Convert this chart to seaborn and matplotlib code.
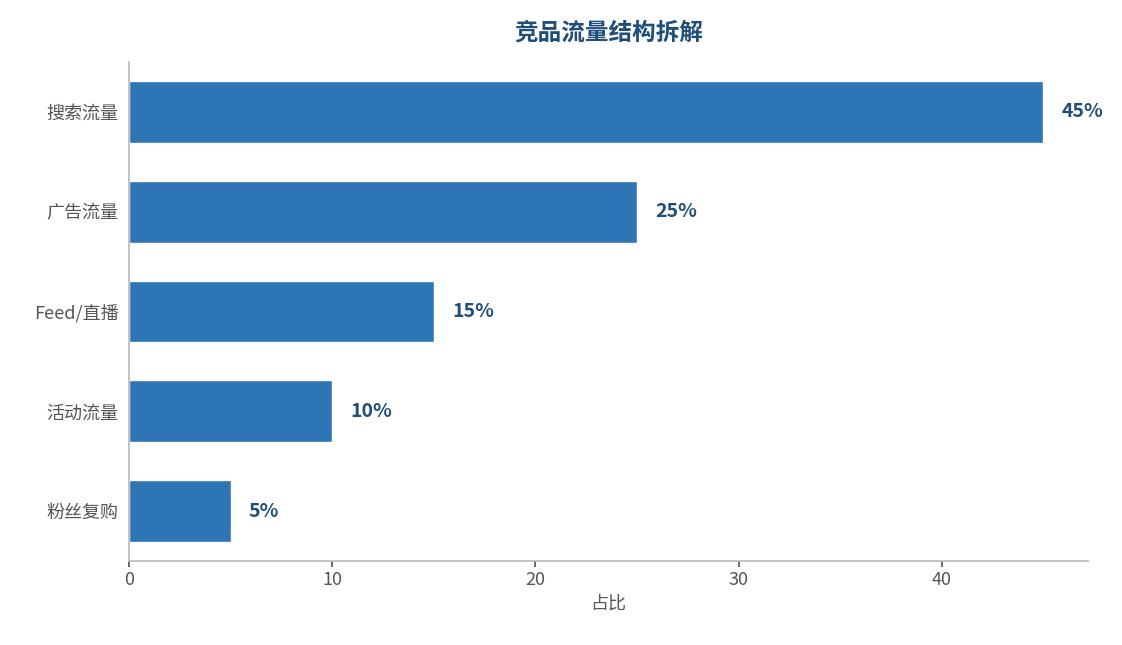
import matplotlib
matplotlib.use("Agg")
import matplotlib.pyplot as plt
import seaborn as sns
import pandas as pd

categories = ["搜索流量", "广告流量", "Feed/直播", "活动流量", "粉丝复购"]
values = [45, 25, 15, 10, 5]

sns.set_theme(style="white")
plt.rcParams['font.family'] = ['Noto Sans CJK SC', 'DejaVu Sans']

df = pd.DataFrame({"cat": categories, "val": values})
fig = plt.figure(figsize=(11.22, 6.45), dpi=100)
ax = fig.add_axes([129/1122, 1-561/645, (1088-129)/1122, (561-62)/645])
sns.barplot(data=df, y="cat", x="val", color="#2E75B6", saturation=1, width=0.62, ax=ax)
for i, v in enumerate(values):
    ax.text(v + 0.9, i, f"{v}%", va="center", ha="left", fontsize=14, fontweight="bold", color="#1F4E79")
ax.set_xlim(0, 47.2)
ax.set_xticks([0, 10, 20, 30, 40])
ax.set_xlabel("占比", fontsize=13, color="#555555")
ax.set_ylabel("")
ax.tick_params(axis="both", labelsize=13, colors="#555555", length=4, left=False, bottom=True)
for s in ["top", "right"]:
    ax.spines[s].set_visible(False)
for s in ["left", "bottom"]:
    ax.spines[s].set_color("#BBBBBB")
ax.set_title("竞品流量结构拆解", fontsize=17, fontweight="bold", color="#1F4E79", pad=16)
fig.savefig("out.png", dpi=100)
